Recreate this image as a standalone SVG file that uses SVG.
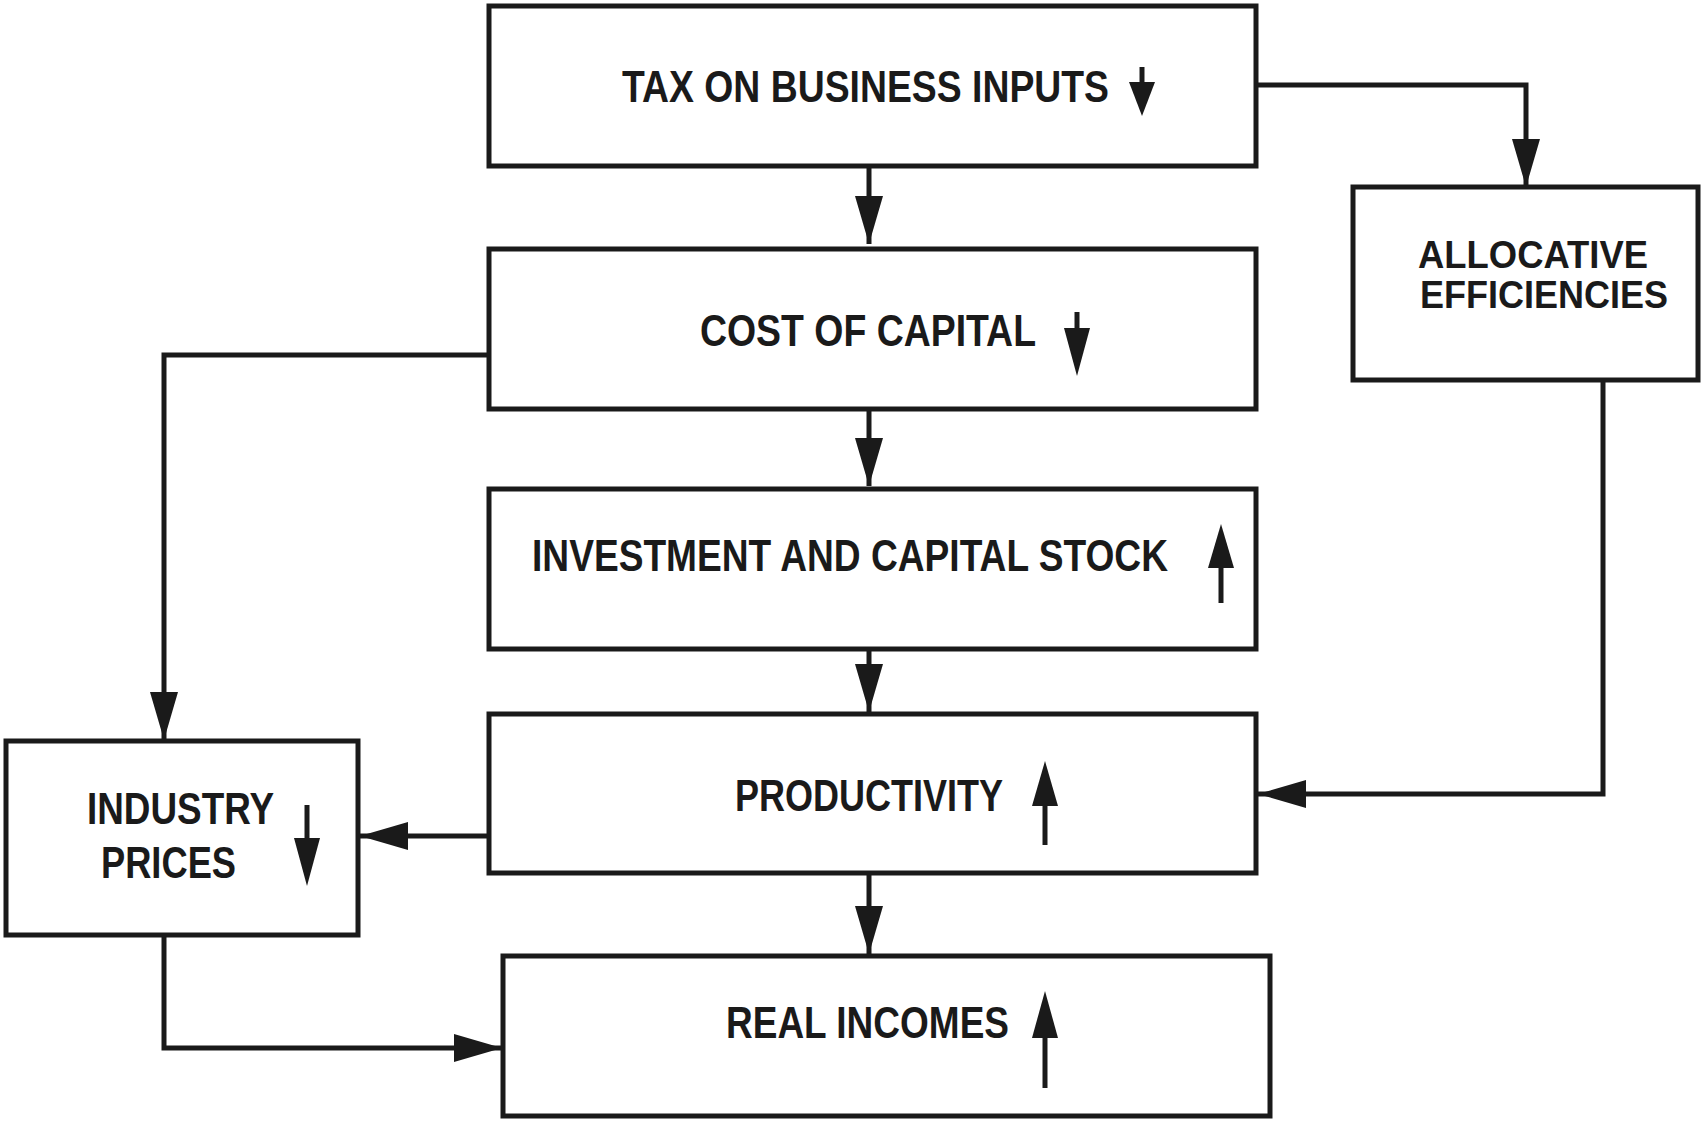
<svg xmlns="http://www.w3.org/2000/svg" width="1701" height="1121" viewBox="0 0 1701 1121">
<style>
.box{fill:#fff;stroke:#1a1a1a;stroke-width:5}
.lbl{font-family:"Liberation Sans",Arial,sans-serif;font-weight:bold;font-size:44px;fill:#1a1a1a}
.sm{font-size:39px}
.conn{fill:none;stroke:#1a1a1a;stroke-width:5}
.ind{stroke:#1a1a1a;stroke-width:5;fill:none}
.head{fill:#1a1a1a}
</style>
<defs>
<marker id="ah" markerUnits="userSpaceOnUse" markerWidth="52" markerHeight="32" refX="48" refY="14" orient="auto">
<path d="M0,0 L48,14 L0,28 Z" fill="#1a1a1a"/>
</marker>
</defs>
<rect width="1701" height="1121" fill="#fff"/>

<g id="connectors">
<path class="conn" d="M869,166 V244" marker-end="url(#ah)"/>
<path class="conn" d="M869,409 V486" marker-end="url(#ah)"/>
<path class="conn" d="M869,649 V712" marker-end="url(#ah)"/>
<path class="conn" d="M869,873 V954" marker-end="url(#ah)"/>
<path class="conn" d="M1256,85 H1526 V187" marker-end="url(#ah)"/>
<path class="conn" d="M1603,380 V794 H1258" marker-end="url(#ah)"/>
<path class="conn" d="M489,355 H164 V740" marker-end="url(#ah)"/>
<path class="conn" d="M489,836 H360" marker-end="url(#ah)"/>
<path class="conn" d="M164,935 V1048 H502" marker-end="url(#ah)"/>
</g>

<g id="tax">
<rect class="box" x="489" y="6" width="767" height="160"/>
<text class="lbl" x="622" y="102" textLength="487" lengthAdjust="spacingAndGlyphs">TAX ON BUSINESS INPUTS</text>
<line class="ind" x1="1142" y1="67" x2="1142" y2="90"/>
<path class="head" d="M1129,82 L1155,82 L1142,116 Z"/>
</g>

<g id="cost">
<rect class="box" x="489" y="249" width="767" height="160"/>
<text class="lbl" x="700" y="346" textLength="336" lengthAdjust="spacingAndGlyphs">COST OF CAPITAL</text>
<line class="ind" x1="1077" y1="312" x2="1077" y2="336"/>
<path class="head" d="M1064,328 L1090,328 L1077,376 Z"/>
</g>

<g id="investment">
<rect class="box" x="489" y="489" width="767" height="160"/>
<text class="lbl" x="532" y="571" textLength="636" lengthAdjust="spacingAndGlyphs">INVESTMENT AND CAPITAL STOCK</text>
<line class="ind" x1="1221" y1="560" x2="1221" y2="603"/>
<path class="head" d="M1208,568 L1234,568 L1221,524 Z"/>
</g>

<g id="productivity">
<rect class="box" x="489" y="714" width="767" height="159"/>
<text class="lbl" x="735" y="811" textLength="268" lengthAdjust="spacingAndGlyphs">PRODUCTIVITY</text>
<line class="ind" x1="1045" y1="798" x2="1045" y2="845"/>
<path class="head" d="M1032,806 L1058,806 L1045,761 Z"/>
</g>

<g id="real-incomes">
<rect class="box" x="503" y="956" width="767" height="160"/>
<text class="lbl" x="726" y="1038" textLength="283" lengthAdjust="spacingAndGlyphs">REAL INCOMES</text>
<line class="ind" x1="1045" y1="1030" x2="1045" y2="1088"/>
<path class="head" d="M1032,1038 L1058,1038 L1045,991 Z"/>
</g>

<g id="allocative">
<rect class="box" x="1353" y="187" width="345" height="193"/>
<text class="lbl sm" x="1418" y="268" textLength="230" lengthAdjust="spacingAndGlyphs">ALLOCATIVE</text>
<text class="lbl sm" x="1420" y="308" textLength="248" lengthAdjust="spacingAndGlyphs">EFFICIENCIES</text>
</g>

<g id="industry">
<rect class="box" x="6" y="741" width="352" height="194"/>
<text class="lbl" x="87" y="824" textLength="187" lengthAdjust="spacingAndGlyphs">INDUSTRY</text>
<text class="lbl" x="101" y="878" textLength="135" lengthAdjust="spacingAndGlyphs">PRICES</text>
<line class="ind" x1="307" y1="805" x2="307" y2="846"/>
<path class="head" d="M294,838 L320,838 L307,886 Z"/>
</g>
</svg>
